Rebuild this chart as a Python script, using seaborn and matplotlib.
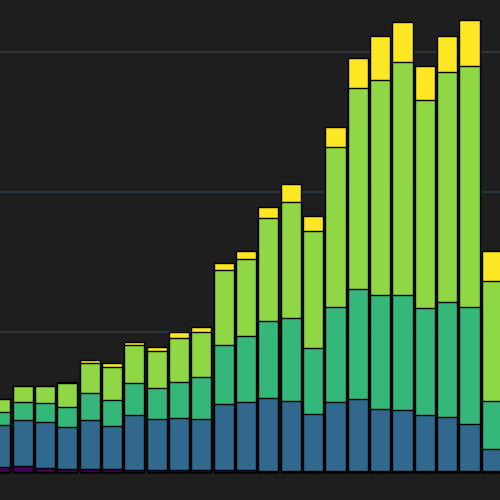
import numpy as np
import pandas as pd
import matplotlib
matplotlib.use("Agg")
import matplotlib.pyplot as plt
import seaborn as sns

categories = [f"C{i}" for i in range(23)]
purple = [3.9, 4.3, 3.2, 2.1, 1.8, 1.8, 1.4, 1.1, 1.1, 1.1, 1.1, 1.1, 0.5, 0.5, 0.5, 0.5, 0.4, 0.4, 0.4, 0.4, 0.4, 0.4, 0.4]
blue = [29.6, 32.9, 32.7, 29.8, 35.4, 31.1, 39.3, 36.6, 37.3, 36.8, 47.5, 48.9, 52.1, 50.4, 40.9, 49.7, 51.6, 44.6, 43.9, 40.4, 39.1, 33.9, 16.1]
teal = [9.3, 12.9, 13.6, 14.3, 19.5, 18.6, 22.6, 22.1, 25.7, 30.2, 41.8, 47.4, 55.4, 58.9, 46.9, 67.3, 78.6, 81.4, 82.1, 76.2, 82.1, 83.8, 34.5]
green = [9.3, 11.6, 12.1, 17.1, 21.4, 23.8, 27.4, 26.9, 31.9, 31.7, 53.9, 54.6, 73.1, 83.3, 84.0, 114.3, 144.0, 153.6, 166.2, 148.8, 164.3, 172.1, 85.5]
yellow = [0.0, 0.0, 0.0, 0.9, 1.9, 2.4, 2.4, 2.9, 3.9, 4.0, 5.0, 5.6, 8.3, 12.6, 10.6, 14.3, 21.4, 31.4, 29.0, 24.5, 25.5, 32.6, 21.4]

series = [purple, blue, teal, green, yellow]
colors = ["#440154", "#31688e", "#35b779", "#8fd744", "#fde725"]

df = pd.DataFrame({"cat": categories})
cum = np.zeros(len(categories))
cums = []
for s in series:
    cum = cum + np.array(s)
    cums.append(cum.copy())

sns.set_style("dark")
fig = plt.figure(figsize=(5, 5), dpi=100)
fig.patch.set_facecolor("#1e1e1e")
ax = fig.add_axes([0, 0, 1, 1])
ax.set_facecolor("#1e1e1e")

for c, col in zip(reversed(cums), reversed(colors)):
    d = pd.DataFrame({"cat": categories, "val": c})
    sns.barplot(data=d, x="cat", y="val", color=col, saturation=1, width=0.9,
                edgecolor="black", linewidth=1.0, errorbar=None, ax=ax, zorder=3)

ax.set_xlim(-0.016, 22.366)
ax.set_ylim(-20, 337.14)
ax.set_yticks([0, 100, 200, 300])
ax.yaxis.grid(True, color="#313b49", linewidth=1.1, zorder=0)
ax.xaxis.grid(False)
ax.set_xlabel("")
ax.set_ylabel("")
ax.set_xticks([])
ax.tick_params(left=False, bottom=False, labelleft=False, labelbottom=False)
for sp in ax.spines.values():
    sp.set_visible(False)
ax.set_axisbelow(True)

fig.savefig("out.png", dpi=100, facecolor=fig.get_facecolor())
